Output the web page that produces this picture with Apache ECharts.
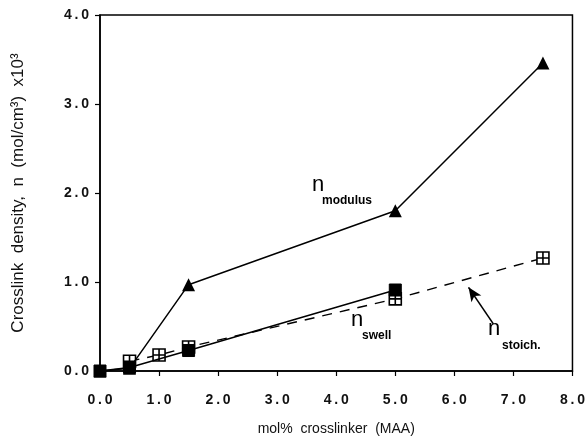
<!DOCTYPE html>
<html>
<head>
<meta charset="utf-8">
<script src="https://cdn.jsdelivr.net/npm/echarts@6/dist/echarts.min.js"></script>
<style>
  html, body { margin: 0; padding: 0; background: #fff; }
  #chart { width: 588px; height: 448px; }
</style>
</head>
<body>
<div id="chart"></div>
<script>
// crosslinker (mol% MAA) and crosslink density (x10^3 mol/cm3)
const modulusX = [0.0, 0.5, 1.5, 5.0, 7.5];
const modulusY = [0.0, 0.03, 0.97, 1.80, 3.46];

const swellX = [0.0, 0.5, 1.5, 5.0];
const swellY = [0.0, 0.04, 0.23, 0.91];

const stoichX = [0.5, 1.0, 1.5, 5.0, 7.5];
const stoichY = [0.11, 0.18, 0.27, 0.81, 1.27];

const xTicks = [0, 1, 2, 3, 4, 5, 6, 7, 8];
const yTicks = [0, 1, 2, 3, 4];

const pairs = (xs, ys) => xs.map((x, i) => [x, ys[i]]);
const spaced = (v) => v.toFixed(1).split('').join('\u2009');

const FONT = '"Liberation Sans", Arial, sans-serif';
const crossBox = 'path://M0,0H10V10H0Z M5,0V10 M0,5H10';

// n with a subscript, drawn as rich text
const nLabel = (sub, pad, gap) => ({
  text: `{n|n}\n{s|${sub}}`,
  rich: {
    n: { fontFamily: FONT, fontSize: 22, fill: '#000', lineHeight: gap },
    s: { fontFamily: FONT, fontSize: 12, fontWeight: 'bold', fill: '#000', lineHeight: 14, padding: [0, 0, 0, pad] },
  },
});

const chart = echarts.init(document.getElementById('chart'));

chart.setOption({
  animation: false,
  backgroundColor: '#fff',
  grid: {
    left: 100, right: 14, top: 15, bottom: 77,
    show: true, borderColor: '#000', borderWidth: 1.5,
  },
  xAxis: {
    type: 'value',
    min: xTicks[0],
    max: xTicks[xTicks.length - 1],
    interval: 1,
    name: 'mol%  crosslinker  (MAA)',
    nameLocation: 'middle',
    nameGap: 51,
    nameTextStyle: { fontFamily: FONT, fontSize: 14, color: '#111' },
    axisLine: { lineStyle: { color: '#000', width: 1.5 } },
    axisTick: { inside: false, length: 5, lineStyle: { color: '#000', width: 1.2 } },
    axisLabel: {
      margin: 22, fontFamily: FONT, fontSize: 14, fontWeight: 'bold', color: '#111',
      formatter: spaced,
    },
    splitLine: { show: false },
  },
  yAxis: {
    type: 'value',
    min: yTicks[0],
    max: yTicks[yTicks.length - 1],
    interval: 1,
    name: 'Crosslink  density,  n  (mol/cm³)  x10³',
    nameLocation: 'middle',
    nameGap: 73,
    nameTextStyle: { fontFamily: FONT, fontSize: 17, color: '#111' },
    axisLine: { lineStyle: { color: '#000', width: 1.5 } },
    axisTick: { inside: false, length: 5, lineStyle: { color: '#000', width: 1.2 } },
    axisLabel: {
      margin: 11, fontFamily: FONT, fontSize: 14, fontWeight: 'bold', color: '#111',
      formatter: spaced,
    },
    splitLine: { show: false },
  },
  series: [
    {
      name: 'stoich',
      type: 'line',
      data: pairs(stoichX, stoichY),
      symbol: crossBox,
      symbolSize: 12,
      lineStyle: { color: '#000', width: 1.4, type: [10, 8] },
      itemStyle: { color: '#fff', borderColor: '#000', borderWidth: 1.6 },
      z: 3,
      markLine: {
        silent: true,
        symbol: ['none', 'arrow'],
        symbolSize: [9, 14],
        label: { show: false },
        lineStyle: { color: '#000', width: 1.6, type: 'solid' },
        data: [[{ coord: [6.66, 0.53] }, { coord: [6.24, 0.94] }]],
      },
    },
    {
      name: 'swell',
      type: 'line',
      data: pairs(swellX, swellY),
      symbol: 'rect',
      symbolSize: 12,
      lineStyle: { color: '#000', width: 1.5 },
      itemStyle: { color: '#000', borderColor: '#000' },
      z: 4,
    },
    {
      name: 'modulus',
      type: 'line',
      data: pairs(modulusX, modulusY),
      symbol: 'triangle',
      symbolSize: 13,
      lineStyle: { color: '#000', width: 1.5 },
      itemStyle: { color: '#000' },
      z: 5,
    },
  ],
  graphic: [
    { type: 'text', left: 312, top: 174, style: nLabel('modulus', 10, 17) },
    { type: 'text', left: 351, top: 309, style: nLabel('swell', 11, 18) },
    { type: 'text', left: 488, top: 318, style: nLabel('stoich.', 14, 20) },
  ],
});
</script>
</body>
</html>
